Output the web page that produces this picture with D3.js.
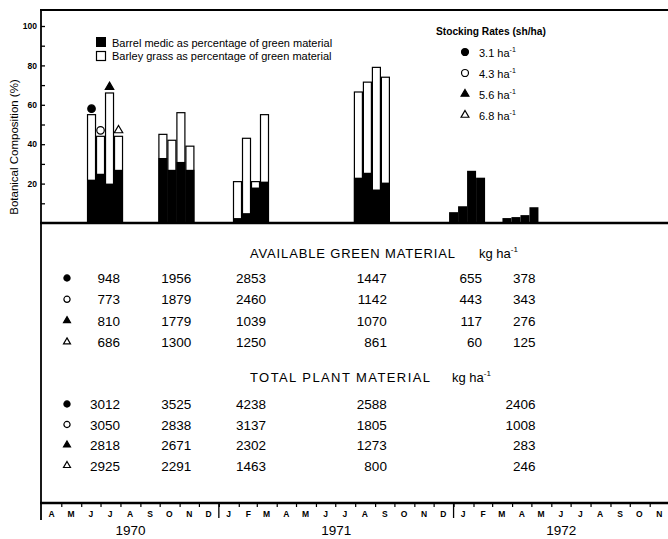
<!DOCTYPE html>
<html>
<head>
<meta charset="utf-8">
<script src="https://cdn.jsdelivr.net/npm/d3@7"></script>
<style>
body { margin: 0; background: #fff; }
svg { display: block; font-family: "Liberation Sans", Arial, sans-serif; }
</style>
</head>
<body>
<script>
// sampling dates, one group of four bars (one per stocking rate) each
var sampleDates = ["1970-07-08", "1970-10-27", "1971-02-20", "1971-08-27", "1972-01-22", "1972-04-14"];
var rates = ["3.1", "4.3", "5.6", "6.8"];
var rateSymbols = ["circleFilled", "circleOpen", "triangleFilled", "triangleOpen"];

// barrel medic % of green material, per date, per stocking rate
var medicPct = [
  [22, 25, 20, 27],
  [33, 27, 31, 27],
  [2.5, 5, 18, 21],
  [23, 25.5, 17, 20.5],
  [5.5, 8.5, 26.5, 23],
  [2.5, 3, 4, 8]
];
// barley grass % of green material (stacked on top)
var barleyPct = [
  [33, 19, 46, 17],
  [12, 15, 25, 12],
  [18.5, 38, 3, 34],
  [43.5, 46, 62, 53.5],
  [0, 0, 0, 0],
  [0, 0, 0, 0]
];

// available green material kg/ha, row per stocking rate, column per date
var greenKg = [
  [948, 1956, 2853, 1447, 655, 378],
  [773, 1879, 2460, 1142, 443, 343],
  [810, 1779, 1039, 1070, 117, 276],
  [686, 1300, 1250, 861, 60, 125]
];
// total plant material kg/ha (no value for the Jan 1972 sample)
var totalKg = [
  [3012, 3525, 4238, 2588, null, 2406],
  [3050, 2838, 3137, 1805, null, 1008],
  [2818, 2671, 2302, 1273, null, 283],
  [2925, 2291, 1463, 800, null, 246]
];

var yTickValues = [10, 20, 30, 40, 50, 60, 70, 80, 90, 100];
var monthLetters = ["J", "F", "M", "A", "M", "J", "J", "A", "S", "O", "N", "D"];
var years = [1970, 1971, 1972];

var width = 668, height = 539;
var svg = d3.select("body").append("svg").attr("width", width).attr("height", height);

var start = new Date(Date.UTC(1970, 3, 1)), end = new Date(Date.UTC(1972, 11, 1));
var x = d3.scaleUtc().domain([start, end]).range([42, 669]);
var y = d3.scaleLinear().domain([0, 100]).range([223, 26]);
var barW = 9;
var dates = sampleDates.map(function(s) { return new Date(s + "T00:00:00Z"); });

function drawSymbol(g, kind, cx, cy, size) {
  var isCircle = kind.indexOf("circle") === 0;
  var filled = kind.indexOf("Filled") > 0;
  var path = d3.symbol().type(isCircle ? d3.symbolCircle : d3.symbolTriangle)
    .size(isCircle ? size : size * 0.7)();
  g.append("path").attr("d", path)
    .attr("transform", "translate(" + cx + "," + cy + ")")
    .attr("fill", filled ? "#000" : "#fff")
    .attr("stroke", "#000").attr("stroke-width", 1.2);
}

// frame lines
svg.append("line").attr("x1", 40).attr("x2", width).attr("y1", 10).attr("y2", 10)
  .attr("stroke", "#000").attr("stroke-width", 1.8);
svg.append("line").attr("x1", 41).attr("x2", 41).attr("y1", 9).attr("y2", 520)
  .attr("stroke", "#000").attr("stroke-width", 1.8);

// y axis
var yAxis = d3.axisLeft(y).tickValues(yTickValues).tickSizeInner(-4).tickSizeOuter(0).tickPadding(4)
  .tickFormat(function(d) { return d % 20 === 0 ? d : ""; });
var yg = svg.append("g").attr("transform", "translate(41,0)").call(yAxis);
yg.select(".domain").remove();
yg.selectAll("line").attr("stroke-width", 1.3);
yg.selectAll("text").attr("font-size", 8.5).attr("font-weight", "bold").attr("font-family", "Liberation Sans, Arial");

svg.append("text").attr("transform", "translate(18,147) rotate(-90)")
  .attr("text-anchor", "middle").attr("font-size", 11.5).text("Botanical Composition (%)");

// bars
var groups = svg.append("g").selectAll("g").data(dates).enter().append("g");
groups.each(function(d, gi) {
  var g = d3.select(this);
  for (var i = 0; i < 4; i++) {
    var bx = x(d) + (i - 2) * barW;
    var m = medicPct[gi][i], b = barleyPct[gi][i];
    if (b > 0) {
      g.append("rect").attr("x", bx + 0.5).attr("y", y(m + b))
        .attr("width", barW - 1).attr("height", y(0) - y(m + b))
        .attr("fill", "#fff").attr("stroke", "#000").attr("stroke-width", 1.2);
    }
    g.append("rect").attr("x", bx).attr("y", y(m))
      .attr("width", barW).attr("height", y(0) - y(m)).attr("fill", "#000");
    if (gi === 0) drawSymbol(svg, rateSymbols[i], bx + barW / 2, y(m + b) - 6, 44);
  }
});

// baseline
svg.append("line").attr("x1", 40).attr("x2", width).attr("y1", y(0)).attr("y2", y(0))
  .attr("stroke", "#000").attr("stroke-width", 2.5);

// legend
svg.append("rect").attr("x", 96).attr("y", 37).attr("width", 10).attr("height", 10).attr("fill", "#000");
svg.append("rect").attr("x", 96.5).attr("y", 51.5).attr("width", 9).attr("height", 9)
  .attr("fill", "#fff").attr("stroke", "#000").attr("stroke-width", 1.2);
svg.append("text").attr("x", 112).attr("y", 47).attr("font-size", 11)
  .text("Barrel medic as percentage of green material");
svg.append("text").attr("x", 112).attr("y", 60).attr("font-size", 11)
  .text("Barley grass as percentage of green material");

svg.append("text").attr("x", 436).attr("y", 35).attr("font-size", 10.2).attr("font-weight", "bold")
  .text("Stocking Rates (sh/ha)");
rates.forEach(function(r, i) {
  var cy = 52 + i * 21;
  drawSymbol(svg, rateSymbols[i], 465, cy, 38);
  var t = svg.append("text").attr("x", 479).attr("y", cy + 4.5).attr("font-size", 11);
  t.append("tspan").text(r + "  ha");
  t.append("tspan").attr("dy", -5).attr("font-size", 7).text("-1");
});

// tables
function sectionTitle(label, tx, ty, len, kgx) {
  svg.append("text").attr("x", tx).attr("y", ty).attr("font-size", 13)
    .attr("textLength", len).attr("lengthAdjust", "spacing").text(label);
  var t = svg.append("text").attr("x", kgx).attr("y", ty).attr("font-size", 13);
  t.append("tspan").text("kg ha");
  t.append("tspan").attr("dy", -6).attr("font-size", 8).text("-1");
}
function table(rows, y0, dy) {
  rows.forEach(function(row, ri) {
    var ty = y0 + ri * dy;
    drawSymbol(svg, rateSymbols[ri], 67, ty - 5, 30);
    row.forEach(function(v, ci) {
      if (v === null) return;
      svg.append("text").attr("x", x(dates[ci]) + 15).attr("y", ty)
        .attr("text-anchor", "end").attr("font-size", 13.5).text(v);
    });
  });
}
sectionTitle("AVAILABLE  GREEN  MATERIAL", 250, 258, 205, 479);
table(greenKg, 283, 21.3);
sectionTitle("TOTAL  PLANT  MATERIAL", 250, 382, 180, 452);
table(totalKg, 409, 20.5);

// month axis
var axisY = 503;
var months = d3.utcMonth.range(start, end);
var mAxis = d3.axisBottom(x).tickValues(months.slice(1)).tickSize(4).tickFormat("");
var mg = svg.append("g").attr("transform", "translate(0," + axisY + ")").call(mAxis);
mg.select(".domain").remove();
mg.selectAll("line").attr("stroke-width", 1.2);
svg.append("line").attr("x1", 40).attr("x2", width).attr("y1", axisY).attr("y2", axisY)
  .attr("stroke", "#000").attr("stroke-width", 2.5);
svg.append("g").selectAll("text").data(months).enter().append("text")
  .attr("x", function(d) { return x(d3.utcDay.offset(d, 15)); })
  .attr("y", axisY + 14).attr("text-anchor", "middle").attr("font-size", 8.5).attr("font-weight", "bold")
  .text(function(d) { return monthLetters[d.getUTCMonth()]; });
svg.append("g").selectAll("line").data(months.filter(function(d) { return d.getUTCMonth() === 0; }))
  .enter().append("line")
  .attr("x1", function(d) { return x(d); }).attr("x2", function(d) { return x(d); })
  .attr("y1", axisY).attr("y2", axisY + 15).attr("stroke", "#000").attr("stroke-width", 1.3);

svg.append("g").selectAll("text").data(years).enter().append("text")
  .attr("x", function(yr) {
    var a = d3.max([start, new Date(Date.UTC(yr, 0, 1))]);
    var b = d3.min([end, new Date(Date.UTC(yr + 1, 0, 1))]);
    return (x(a) + x(b)) / 2;
  })
  .attr("y", 535).attr("text-anchor", "middle").attr("font-size", 13.5)
  .text(function(d) { return d; });
</script>
</body>
</html>
